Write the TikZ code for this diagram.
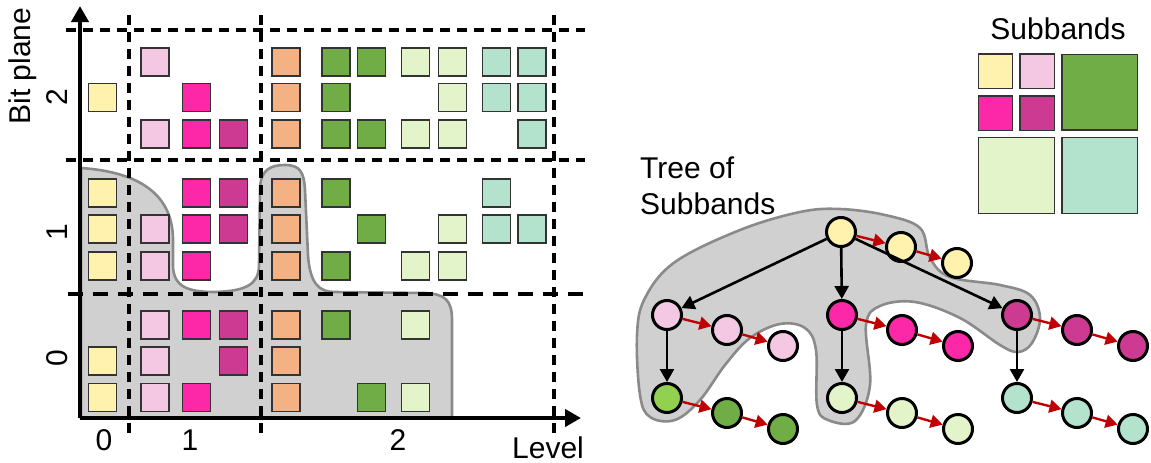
\documentclass[tikz,border=0pt]{standalone}
\usepackage{fontspec}
\setmainfont{Liberation Sans}
\usetikzlibrary{arrows.meta,positioning}

\definecolor{cY}{HTML}{FFF2AE}
\definecolor{cP}{HTML}{F4C8E2}
\definecolor{cM}{HTML}{FC28A8}
\definecolor{cD}{HTML}{CC3A92}
\definecolor{cO}{HTML}{F4B183}
\definecolor{cG}{HTML}{70AD47}
\definecolor{cL}{HTML}{E3F3CA}
\definecolor{cT}{HTML}{B3E2CD}
\definecolor{cB}{HTML}{92D050}
\definecolor{blobfill}{HTML}{D0D0D0}
\definecolor{blobline}{HTML}{8A8A8A}
\definecolor{chainred}{HTML}{C00000}

\begin{document}
\begin{tikzpicture}[x=1pt, y=-1pt, font=\fontsize{30}{36}\selectfont]
\tikzset{sq/.style={draw=black!80, line width=1.6pt, minimum size=28pt, inner sep=0pt}}
\tikzset{ball/.style={circle, draw=black, line width=3pt, minimum size=29pt, inner sep=0pt}}
\tikzset{blob/.style={fill=blobfill, draw=blobline, line width=2.6pt}}
\tikzset{grid line/.style={dash pattern=on 10pt off 7pt, line width=3.2pt}}
\tikzset{down/.style={-{Triangle[length=13pt,width=14pt]}, line width=2.6pt}}
\tikzset{next/.style={-{Triangle[length=12pt,width=13pt]}, draw=chainred, line width=2.4pt}}
\useasboundingbox (0,0) rectangle (1151,463);

% significant part of the bit planes
\draw[blob] (81,168) .. controls (140,172) and (173,195) .. (173,240) -- (173,265)
  .. controls (173,288) and (190,292) .. (215,292)
  .. controls (245,291) and (259,285) .. (259,265) -- (260,190)
  .. controls (260,170) and (270,165) .. (285,165)
  .. controls (300,165) and (304,172) .. (305,190) -- (308,255)
  .. controls (310,285) and (320,292) .. (335,292) -- (425,293)
  .. controls (445,294) and (452,300) .. (452,320) -- (452,418) -- (81,418) -- cycle;

% grid
\draw[grid line] (66,30) -- (585,30);
\draw[grid line] (66,160) -- (585,160);
\draw[line width=4.2pt, dash pattern=on 15pt off 10pt] (68,294) -- (585,294);
\foreach \x in {129,261,554}
  \draw[grid line] (\x,15) -- (\x,437);

% coefficients
\foreach \x/\y [count=\n] in {102.5/97.5, 102.5/193, 102.5/229, 102.5/266, 102.5/361, 102.5/397.5}
  \node[sq, fill=cY] (y\n) at (\x,\y) {};
\foreach \x/\y [count=\n] in {154.7/62, 154.7/134, 154.7/229, 154.7/266, 154.7/325, 154.7/361, 154.7/397.5}
  \node[sq, fill=cP] (p\n) at (\x,\y) {};
\foreach \x/\y [count=\n] in {196.3/97.5, 196.3/134, 196.3/193, 196.3/229, 196.3/266, 196.3/325, 196.3/397.5}
  \node[sq, fill=cM] (m\n) at (\x,\y) {};
\foreach \x/\y [count=\n] in {233.6/134, 233.6/193, 233.6/229, 233.6/325, 233.6/361}
  \node[sq, fill=cD] (d\n) at (\x,\y) {};
\foreach \x/\y [count=\n] in {285.8/62, 285.8/97.5, 285.8/134, 285.8/193, 285.8/229, 285.8/266, 285.8/325, 285.8/361, 285.8/397.5}
  \node[sq, fill=cO] (o\n) at (\x,\y) {};
\foreach \x/\y [count=\n] in {336/62, 336/97.5, 336/134, 371.3/62, 371.3/134, 336/193, 371.3/229, 336/266, 336/325, 371.3/397.5}
  \node[sq, fill=cG] (g\n) at (\x,\y) {};
\foreach \x/\y [count=\n] in {415.3/62, 415.3/134, 452.5/62, 452.5/97.5, 452.5/134, 452.5/229, 415.3/266, 452.5/266, 415.3/325, 415.3/397.5}
  \node[sq, fill=cL] (l\n) at (\x,\y) {};
\foreach \x/\y [count=\n] in {496.5/62, 496.5/97.5, 532/62, 532/97.5, 532/134, 496.5/193, 496.5/229, 532/229}
  \node[sq, fill=cT] (t\n) at (\x,\y) {};

% axes
\draw[line width=4pt, -{Triangle[length=16pt,width=17pt]}] (80,418) -- (80,6);
\draw[line width=4pt, -{Triangle[length=16pt,width=17pt]}] (80,418) -- (581,418);
\node[rotate=90, inner sep=0pt] (yaxis) at (23,66) {Bit plane};
\node[rotate=90, inner sep=0pt] (bp2) at (57.5,97) {2};
\node[rotate=90, inner sep=0pt] (bp1) at (57.5,232) {1};
\node[rotate=90, inner sep=0pt] (bp0) at (57.5,358) {0};
\node[inner sep=0pt] (lv0) at (104,440) {0};
\node[inner sep=0pt] (lv1) at (190,440) {1};
\node[inner sep=0pt] (lv2) at (398,440) {2};
\node[inner sep=0pt] (xaxis) at (548,448) {Level};

% subband layout
\node (title) at (1058,29) {Subbands};
\node[sq, minimum size=34.3pt, fill=cY] (lgY) at (995.5,71.3) {};
\node[sq, minimum size=34.3pt, fill=cP] (lgP) at (1037.2,71.3) {};
\node[sq, minimum size=34.3pt, fill=cM] (lgM) at (995.5,113.2) {};
\node[sq, minimum size=34.3pt, fill=cD] (lgD) at (1037.2,113.2) {};
\node[sq, minimum size=75.8pt, fill=cG] (lgG) at (1099.7,92.2) {};
\node[sq, minimum size=75.8pt, fill=cL] (lgL) at (1016.4,175.5) {};
\node[sq, minimum size=75.8pt, fill=cT] (lgT) at (1099.7,175.5) {};

% tree
\node[anchor=north west, align=left, inner sep=0pt] (treelabel) at (640,157) {Tree of\\Subbands};
\draw[blob] plot[smooth cycle, tension=0.6] coordinates {
  (840,209) (885,215) (920,228) (930,258) (950,277) (1000,285) (1030,295)
  (1040,318) (1032,343) (1018,352) (1000,345) (960,318) (915,302) (880,306)
  (866,325) (870,385) (855,421) (828,420) (817,405) (816,350) (805,328)
  (780,324) (750,338) (725,365) (700,400) (675,420) (650,417) (640,395)
  (637,335) (645,298) (675,262) (740,230) (800,212)};

\node[ball, fill=cY] (yl) at (841,232) {};
\node[ball, fill=cP] (pk) at (667,315) {};
\node[ball, fill=cM] (mg) at (842,315) {};
\node[ball, fill=cD] (pr) at (1017,315) {};
\node[ball, fill=cB] (gr) at (667,398) {};
\node[ball, fill=cL] (lg) at (842,398) {};
\node[ball, fill=cT] (tl) at (1017,398) {};

\foreach \h/\c in {yl/cY, pk/cP, mg/cM, pr/cD, gr/cG, lg/cL, tl/cT} {
  \node[ball, fill=\c] (\h1) at ([shift={(60,15)}]\h) {};
  \node[ball, fill=\c] (\h2) at ([shift={(56,16)}]\h1) {};
  \draw[next] (\h) -- (\h1);
  \draw[next] (\h1) -- (\h2);
}

\draw[down] (yl) -- (pk);
\draw[down] (yl) -- (mg);
\draw[down] (yl) -- (pr);
\draw[down] (pk) -- (gr);
\draw[down] (mg) -- (lg);
\draw[down] (pr) -- (tl);
\end{tikzpicture}
\end{document}
